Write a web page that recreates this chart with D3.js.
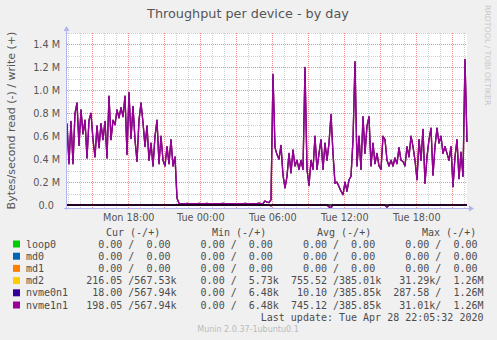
<!DOCTYPE html>
<html>
<head>
<meta charset="utf-8">
<script src="https://cdn.jsdelivr.net/npm/d3@7"></script>
<style>
  body { margin: 0; background: #f0f0f0; }
  svg { display: block; font-family: "DejaVu Sans", sans-serif; }
  .mono { font-family: "DejaVu Sans Mono", monospace; font-size: 10px; fill: #4c4c4c; white-space: pre; }
</style>
</head>
<body>
<svg id="chart" width="497" height="340"></svg>
<script>
// throughput in MB/s, one sample every 10 minutes starting Mon 27 Apr 12:53 UTC
const startTime = Date.UTC(2020, 3, 27, 12, 53, 30);
const endTime = Date.UTC(2020, 3, 28, 22, 13, 30);
const stepMinutes = 10;

const writeNvme1n1 = [
  0.71, 0.36, 0.73, 0.36, 0.80, 0.89, 0.52, 0.83, 0.62, 0.74,
  0.41, 0.74, 0.80, 0.57, 0.42, 0.69, 0.50, 0.71, 0.57, 0.73,
  0.41, 0.95, 0.57, 0.74, 0.70, 0.83, 0.76, 0.85, 0.77, 0.95,
  0.44, 0.98, 0.58, 0.86, 0.57, 0.38, 0.74, 0.89, 0.72, 0.51,
  0.69, 0.39, 0.54, 0.34, 0.60, 0.74, 0.36, 0.60, 0.39, 0.34,
  0.51, 0.36, 0.57, 0.34, 0.42, 0.06, 0.015, 0.012, 0.012, 0.010,
  0.014, 0.011, 0.009, 0.013, 0.012, 0.010, 0.015, 0.011, 0.010, 0.012,
  0.014, 0.010, 0.009, 0.011, 0.013, 0.012, 0.010, 0.011, 0.014, 0.012,
  0.010, 0.009, 0.012, 0.011, 0.013, 0.010, 0.012, 0.011, 0.010, 0.014,
  0.012, 0.011, 0.010, 0.013, 0.011, 0.012, 0.016, 0.012, 0.012, 0.035,
  0.025, 0.022, 0.045, 1.14, 0.50, 0.44, 0.40, 0.52, 0.26, 0.15,
  0.25, 0.45, 0.28, 0.48, 0.34, 0.39, 0.31, 0.39, 0.31, 1.20,
  0.31, 0.17, 0.39, 0.31, 0.60, 0.31, 0.45, 0.57, 0.31, 0.54,
  0.39, 0.54, 0.79, 0.45, 0.19, 0.20, 0.16, 0.12, 0.09, 0.20,
  0.12, 0.22, 0.25, 0.57, 1.25, 0.34, 0.60, 0.31, 0.77, 0.45,
  0.69, 0.77, 0.34, 0.54, 0.36, 0.45, 0.34, 0.31, 0.60, 0.57,
  0.39, 0.34, 0.39, 0.34, 0.41, 0.36, 0.50, 0.39, 0.38, 0.34,
  0.51, 0.42, 0.60, 0.51, 0.39, 0.22, 0.57, 0.39, 0.66, 0.19,
  0.42, 0.57, 0.67, 0.26, 0.51, 0.67, 0.54, 0.60, 0.45, 0.51,
  0.45, 0.39, 0.51, 0.16, 0.42, 0.57, 0.23, 0.46, 0.25, 1.27,
  0.55
];
// read side is ~0 except a few small dips: [sample index, MB/s]
const readDips = [[102, -0.006], [131, -0.016], [132, -0.022], [160, -0.018]];

const devices = ["loop0", "md0", "md1", "md2", "nvme0n1", "nvme1n1"];
const deviceColors = ["#00cc00", "#0066b3", "#ff8000", "#ffcc00", "#330099", "#990099"];
const curText = ["  0.00 /  0.00 ", "  0.00 /  0.00 ", "  0.00 /  0.00 ", "216.05 /567.53k", " 18.00 /567.94k", "198.05 /567.94k"];
const minText = ["  0.00 /  0.00 ", "  0.00 /  0.00 ", "  0.00 /  0.00 ", "  0.00 /  5.73k", "  0.00 /  6.48k", "  0.00 /  6.48k"];
const avgText = ["  0.00 /  0.00 ", "  0.00 /  0.00 ", "  0.00 /  0.00 ", "755.52 /385.01k", " 10.10 /385.85k", "745.12 /385.85k"];
const maxText = ["  0.00 /  0.00 ", "  0.00 /  0.00 ", "  0.00 /  0.00 ", " 31.29k/  1.26M", "287.58 /  1.26M", " 31.01k/  1.26M"];
const columnHeads = ["Cur (-/+)", "Min (-/+)", "Avg (-/+)", "Max (-/+)"];
const yTicks = [0, 0.2, 0.4, 0.6, 0.8, 1.0, 1.2, 1.4];

const svg = d3.select("#chart");
const plot = { left: 67, right: 467, top: 33, bottom: 208 };

const x = d3.scaleUtc().domain([startTime, endTime]).range([plot.left, plot.right]);
const y = d3.scaleLinear().domain([-0.026, 1.5]).range([plot.bottom, plot.top]);
const snap = v => Math.round(v) + 0.5;

const writeSeries = writeNvme1n1.map((v, i) => ({ t: startTime + i * stepMinutes * 60000, v: v }));
const readMap = new Map(readDips);
const readSeries = writeNvme1n1.map((v, i) => ({ t: startTime + i * stepMinutes * 60000, v: readMap.get(i) || 0 }));

svg.append("rect")
    .attr("x", plot.left).attr("y", plot.top)
    .attr("width", plot.right - plot.left).attr("height", plot.bottom - plot.top)
    .attr("fill", "#fff");

// grid
const grid = svg.append("g").attr("stroke-dasharray", "1,1").attr("stroke-width", 1);
grid.selectAll(".hmin").data(d3.range(0, 16).map(d => d / 10))
    .enter().append("line")
    .attr("x1", plot.left).attr("x2", plot.right)
    .attr("y1", d => snap(y(d))).attr("y2", d => snap(y(d)))
    .attr("stroke", "#cfcfcf");
grid.selectAll(".vmin").data(d3.utcHour.every(1).range(new Date(startTime), new Date(endTime)))
    .enter().append("line")
    .attr("x1", d => snap(x(d))).attr("x2", d => snap(x(d)))
    .attr("y1", plot.top).attr("y2", plot.bottom)
    .attr("stroke", "#cfcfcf");
grid.selectAll(".hmaj").data(yTicks.filter(d => d > 0))
    .enter().append("line")
    .attr("x1", plot.left).attr("x2", plot.right)
    .attr("y1", d => snap(y(d))).attr("y2", d => snap(y(d)))
    .attr("stroke", "#ee8c8c");
grid.selectAll(".vmaj").data(d3.utcHour.every(3).range(new Date(startTime), new Date(endTime)))
    .enter().append("line")
    .attr("x1", d => snap(x(d))).attr("x2", d => snap(x(d)))
    .attr("y1", plot.top).attr("y2", plot.bottom)
    .attr("stroke", "#ee8c8c");

// series: md2 and nvme0n1 carry the same writes and sit underneath nvme1n1
const line = d3.line().x(d => x(d.t)).y(d => y(d.v));
[3, 4, 5].forEach(k => {
    svg.append("path").datum(writeSeries)
        .attr("fill", "none").attr("stroke", deviceColors[k])
        .attr("stroke-width", 1.3).attr("stroke-linejoin", "round")
        .attr("d", line);
    svg.append("path").datum(readSeries)
        .attr("fill", "none").attr("stroke", deviceColors[k])
        .attr("stroke-width", 1.3)
        .attr("d", line);
});

svg.append("line")
    .attr("x1", plot.left).attr("x2", plot.right)
    .attr("y1", y(0)).attr("y2", y(0))
    .attr("stroke", "#000").attr("stroke-width", 1.5);

// axes
const axisColor = "#b4b4f0";
svg.append("line").attr("x1", plot.left - 0.5).attr("x2", plot.left - 0.5)
    .attr("y1", plot.bottom + 2).attr("y2", plot.top - 3).attr("stroke", axisColor);
svg.append("line").attr("x1", plot.left - 3).attr("x2", plot.right + 3)
    .attr("y1", plot.bottom + 0.5).attr("y2", plot.bottom + 0.5).attr("stroke", axisColor);
svg.append("path").attr("fill", axisColor)
    .attr("d", `M${plot.left - 3.5},${plot.top - 2}L${plot.left - 0.5},${plot.top - 7}L${plot.left + 2.5},${plot.top - 2}Z`);
svg.append("path").attr("fill", axisColor)
    .attr("d", `M${plot.right + 2},${plot.bottom - 2.5}L${plot.right + 7},${plot.bottom + 0.5}L${plot.right + 2},${plot.bottom + 3.5}Z`);

const yAxis = svg.append("g").attr("transform", `translate(${plot.left},0)`)
    .call(d3.axisLeft(y).tickValues(yTicks).tickSize(0).tickPadding(7)
        .tickFormat(d => d === 0 ? "0.0  " : d3.format(".1f")(d) + " M"));
yAxis.select(".domain").remove();
yAxis.selectAll("text").attr("fill", "#555").style("font-size", "9.7px")
    .style("font-family", "DejaVu Sans").style("white-space", "pre");

const xAxis = svg.append("g").attr("transform", `translate(0,${plot.bottom})`)
    .call(d3.axisBottom(x).ticks(d3.utcHour.every(6)).tickSize(0).tickPadding(6)
        .tickFormat(d3.utcFormat("%a %H:%M")));
xAxis.select(".domain").remove();
xAxis.selectAll("text").attr("fill", "#555").style("font-size", "9.7px")
    .style("font-family", "DejaVu Sans");

// titles
svg.append("text").attr("x", 248).attr("y", 18).attr("text-anchor", "middle")
    .attr("fill", "#555").style("font-size", "12.8px")
    .text("Throughput per device - by day");
svg.append("text").attr("transform", "translate(15,120.5) rotate(-90)")
    .attr("text-anchor", "middle").attr("fill", "#555").style("font-size", "11px")
    .text("Bytes/second read (-) / write (+)");
svg.append("text").attr("transform", "translate(485,5) rotate(90)")
    .attr("text-anchor", "start").attr("fill", "#c8c8c8").style("font-size", "7.8px")
    .text("RRDTOOL / TOBI OETIKER");

// legend
const charW = 6.02;
const rowY0 = 247.5, rowH = 12.2;
const headX = [106, 212, 317, 422];
svg.selectAll(".head").data(columnHeads).enter().append("text")
    .attr("class", "mono").attr("x", (d, i) => headX[i]).attr("y", 236.3).text(d => d);

const rows = svg.selectAll(".row").data(devices).enter().append("g")
    .attr("transform", (d, i) => `translate(0,${rowY0 + i * rowH})`);
rows.append("rect").attr("x", 13).attr("y", -7).attr("width", 7).attr("height", 7)
    .attr("fill", (d, i) => deviceColors[i]);
rows.append("text").attr("class", "mono").attr("x", 26).text(d => d);
[curText, minText, avgText, maxText].forEach((col, c) => {
    rows.append("text").attr("class", "mono")
        .attr("x", 26 + (10 + c * 17) * charW)
        .text((d, i) => col[i]);
});

svg.append("text").attr("class", "mono").attr("x", 483.5).attr("y", rowY0 + 6 * rowH)
    .attr("text-anchor", "end").text("Last update: Tue Apr 28 22:05:32 2020");
svg.append("text").attr("x", 248).attr("y", 332).attr("text-anchor", "middle")
    .attr("fill", "#bbb").style("font-size", "8px").text("Munin 2.0.37-1ubuntu0.1");
</script>
</body>
</html>
